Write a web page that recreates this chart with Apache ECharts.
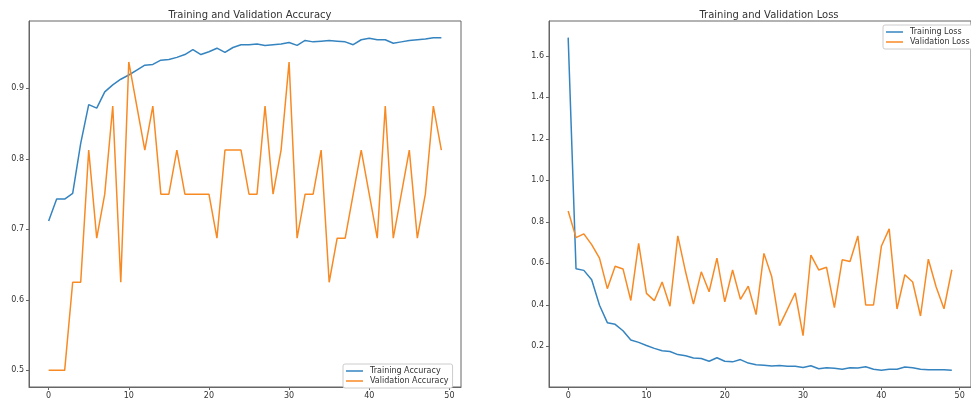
<!DOCTYPE html>
<html>
<head>
<meta charset="utf-8">
<script src="https://cdn.jsdelivr.net/npm/echarts@6/dist/echarts.min.js"></script>
<style>
html,body{margin:0;padding:0;background:#fff;}
#c{width:971px;height:400px;}
</style>
</head>
<body>
<div id="c"></div>
<script>
const trainAcc = [0.712,0.743,0.743,0.751,0.822,0.877,0.872,0.895,0.905,0.913,0.919,0.926,0.933,0.934,0.940,0.941,0.944,0.948,0.955,0.948,0.952,0.957,0.951,0.958,0.962,0.962,0.963,0.961,0.962,0.963,0.965,0.961,0.968,0.966,0.967,0.968,0.967,0.966,0.962,0.969,0.971,0.969,0.969,0.964,0.966,0.968,0.969,0.970,0.972,0.972];
const valAcc = [0.5,0.5,0.5,0.625,0.625,0.8125,0.6875,0.75,0.875,0.625,0.9375,0.875,0.8125,0.875,0.75,0.75,0.8125,0.75,0.75,0.75,0.75,0.6875,0.8125,0.8125,0.8125,0.75,0.75,0.875,0.75,0.8125,0.9375,0.6875,0.75,0.75,0.8125,0.625,0.6875,0.6875,0.75,0.8125,0.75,0.6875,0.875,0.6875,0.75,0.8125,0.6875,0.75,0.875,0.8125];
const trainLoss = [1.688,0.574,0.566,0.521,0.398,0.314,0.306,0.275,0.230,0.219,0.204,0.190,0.179,0.175,0.160,0.154,0.144,0.141,0.128,0.145,0.128,0.125,0.136,0.119,0.111,0.109,0.105,0.107,0.104,0.104,0.098,0.106,0.092,0.097,0.094,0.089,0.097,0.095,0.101,0.089,0.084,0.089,0.089,0.100,0.097,0.089,0.087,0.087,0.087,0.085];
const valLoss = [0.852,0.724,0.742,0.690,0.625,0.478,0.586,0.573,0.421,0.696,0.455,0.420,0.510,0.393,0.732,0.558,0.403,0.559,0.463,0.625,0.414,0.568,0.426,0.490,0.353,0.648,0.535,0.300,0.378,0.457,0.251,0.640,0.568,0.581,0.386,0.617,0.609,0.732,0.399,0.399,0.682,0.766,0.380,0.545,0.510,0.346,0.620,0.486,0.381,0.569];
const xTicks = [0,10,20,30,40,50];
const accTicks = [0.5,0.6,0.7,0.8,0.9];
const lossTicks = [0.2,0.4,0.6,0.8,1.0,1.2,1.4,1.6];

const epochs = trainAcc.map((_, i) => i);
const pairs = arr => arr.map((v, i) => [epochs[i], v]);

const FONT = 'DejaVu Sans';
const TXT = '#333';
const AX = '#666';
const BLUE = '#3584c0';
const ORANGE = '#f88a24';

const pad = v => { const r = v.max - v.min; return {lo: v.min - 0.05 * r, hi: v.max + 0.05 * r}; };

function xAxis(gi) {
  return {
    type: 'value', gridIndex: gi,
    min: v => pad(v).lo, max: v => pad(v).hi,
    splitLine: {show: false},
    axisLine: {show: true, onZero: false, lineStyle: {color: AX, width: 1}},
    axisTick: {show: true, length: 3, customValues: xTicks, lineStyle: {color: AX}},
    axisLabel: {customValues: xTicks, margin: 5, fontSize: 8, fontFamily: FONT, color: TXT}
  };
}
function yAxis(gi, ticks) {
  return {
    type: 'value', gridIndex: gi, scale: true,
    min: v => pad(v).lo, max: v => pad(v).hi,
    splitLine: {show: false},
    axisLine: {show: true, onZero: false, lineStyle: {color: AX, width: 1}},
    axisTick: {show: true, length: 3, customValues: ticks, lineStyle: {color: AX}},
    axisLabel: {customValues: ticks, margin: 5, fontSize: 8, fontFamily: FONT, color: TXT,
      formatter: v => v.toFixed(1)}
  };
}
function line(name, arr, color, gi) {
  return {
    name, type: 'line', xAxisIndex: gi, yAxisIndex: gi,
    data: pairs(arr), showSymbol: false, symbol: 'none',
    lineStyle: {color, width: 1.5}, itemStyle: {color},
    animation: false, z: 3
  };
}
const legendBase = {
  orient: 'vertical', icon: 'rect', itemWidth: 17, itemHeight: 1.5, itemGap: 0,
  padding: [2, 4, 2, 3], backgroundColor: '#fff', borderColor: '#ccc', borderWidth: 1, borderRadius: 2,
  textStyle: {fontSize: 8, fontFamily: FONT, color: TXT, lineHeight: 10, padding: [0, 0, 0, 2]},
  selectedMode: false
};

const chart = echarts.init(document.getElementById('c'), null, {renderer: 'canvas'});
chart.setOption({
  backgroundColor: '#fff',
  animation: false,
  title: [
    {text: 'Training and Validation Accuracy', left: 245, top: 5, textAlign: 'center',
     textStyle: {fontSize: 10, fontWeight: 'normal', fontFamily: FONT, color: TXT}},
    {text: 'Training and Validation Loss', left: 764, top: 5, textAlign: 'center',
     textStyle: {fontSize: 10, fontWeight: 'normal', fontFamily: FONT, color: TXT}}
  ],
  grid: [
    {left: 29, right: 510, top: 21, bottom: 10, show: true, borderColor: AX, borderWidth: 1, backgroundColor: 'transparent'},
    {left: 549, right: -9.4, top: 21, bottom: 10, show: true, borderColor: AX, borderWidth: 1, backgroundColor: 'transparent'}
  ],
  xAxis: [xAxis(0), xAxis(1)],
  yAxis: [yAxis(0, accTicks), yAxis(1, lossTicks)],
  legend: [
    Object.assign({}, legendBase, {left: 343, top: 364, data: ['Training Accuracy', 'Validation Accuracy']}),
    Object.assign({}, legendBase, {left: 883, top: 25, data: ['Training Loss', 'Validation Loss']})
  ],
  series: [
    line('Training Accuracy', trainAcc, BLUE, 0),
    line('Validation Accuracy', valAcc, ORANGE, 0),
    line('Training Loss', trainLoss, BLUE, 1),
    line('Validation Loss', valLoss, ORANGE, 1)
  ]
});
</script>
</body>
</html>
